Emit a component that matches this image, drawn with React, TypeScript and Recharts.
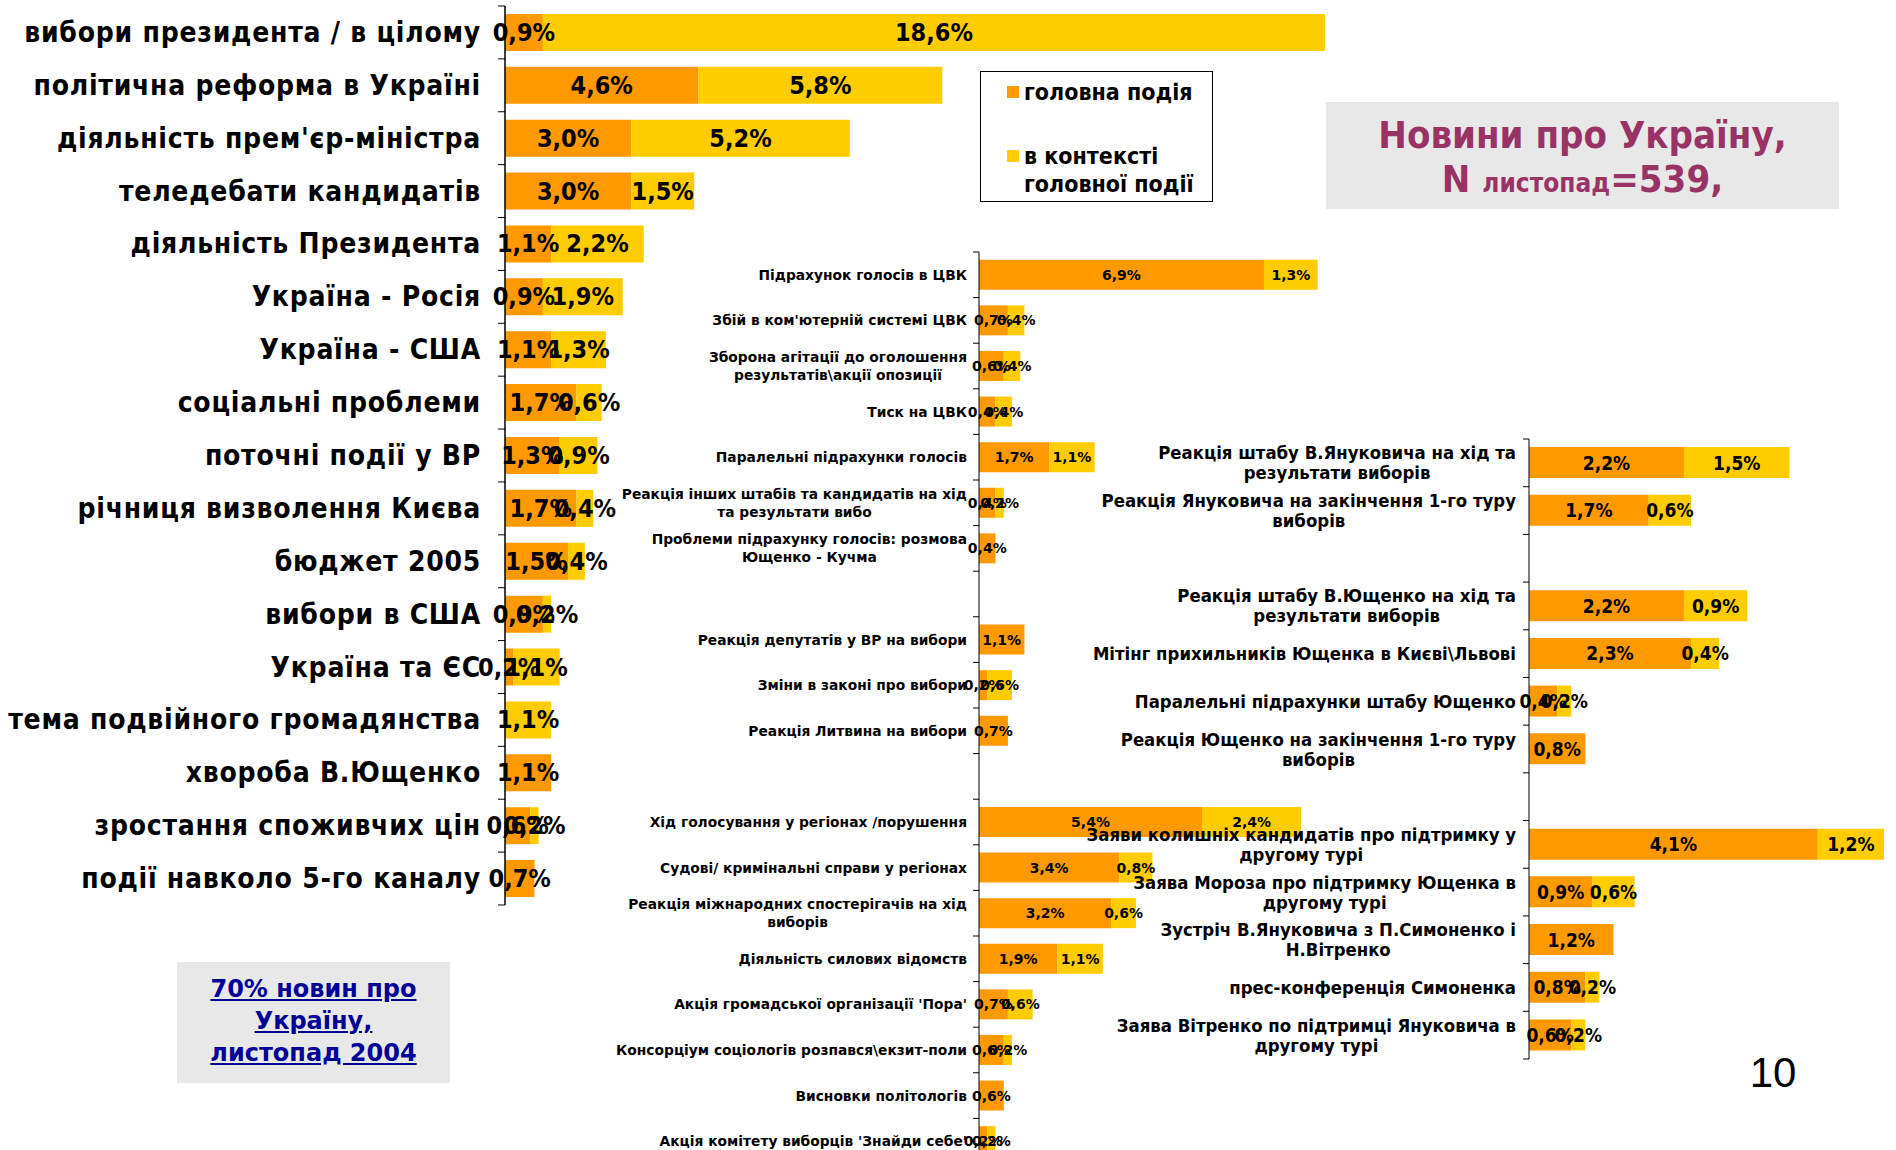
import React from "react";
import { BarChart, Bar, XAxis, YAxis, LabelList, Legend } from "recharts";

const ORANGE = "#FF9900";
const YELLOW = "#FFCC00";
const SERIES_NAMES = ["головна подія", "в контексті\nголовної події"];

// ---- left chart ----
const leftCategories = [
  "вибори президента / в цілому",
  "політична реформа в Україні",
  "діяльність прем'єр-міністра",
  "теледебати кандидатів",
  "діяльність Президента",
  "Україна - Росія",
  "Україна - США",
  "соціальні проблеми",
  "поточні події у ВР",
  "річниця визволення Києва",
  "бюджет 2005",
  "вибори в США",
  "Україна та ЄС",
  "тема подвійного громадянства",
  "хвороба В.Ющенко",
  "зростання споживчих цін",
  "події навколо 5-го каналу",
];
const leftMain = [0.9, 4.6, 3.0, 3.0, 1.1, 0.9, 1.1, 1.7, 1.3, 1.7, 1.5, 0.9, 0.2, 0, 1.1, 0.6, 0.7];
const leftContext = [18.6, 5.8, 5.2, 1.5, 2.2, 1.9, 1.3, 0.6, 0.9, 0.4, 0.4, 0.2, 1.1, 1.1, 0, 0.2, 0];

// ---- middle chart ----
const midCategories = [
  "Підрахунок голосів в ЦВК",
  "Збій в ком'ютерній системі ЦВК",
  "Зборона агітації до оголошення\nрезультатів\\акції опозиції",
  "Тиск на ЦВК",
  "Паралельні підрахунки голосів",
  "Реакція інших штабів та кандидатів на хід\nта результати вибо",
  "Проблеми підрахунку голосів: розмова\nЮщенко - Кучма",
  "",
  "Реакція депутатів у ВР на вибори",
  "Зміни в законі про вибори",
  "Реакція Литвина на вибори",
  "",
  "Хід голосування у регіонах /порушення",
  "Судові/ кримінальні справи у регіонах",
  "Реакція міжнародних спостерігачів на хід\nвиборів",
  "Діяльність силових відомств",
  "Акція громадської організації 'Пора'",
  "Консорціум соціологів розпався\\екзит-поли",
  "Висновки політологів",
  "Акція комітету виборців 'Знайди себе'",
];
const midMain = [6.9, 0.7, 0.6, 0.4, 1.7, 0.4, 0.4, 0, 1.1, 0.2, 0.7, 0, 5.4, 3.4, 3.2, 1.9, 0.7, 0.6, 0.6, 0.2];
const midContext = [1.3, 0.4, 0.4, 0.4, 1.1, 0.2, 0, 0, 0, 0.6, 0, 0, 2.4, 0.8, 0.6, 1.1, 0.6, 0.2, 0, 0.2];

// ---- right chart ----
const rightCategories = [
  "Реакція штабу В.Януковича на хід та\nрезультати виборів",
  "Реакція Януковича на закінчення 1-го туру\nвиборів",
  "",
  "Реакція штабу В.Ющенко на хід та\nрезультати виборів",
  "Мітінг прихильників Ющенка в Києві\\Львові",
  "Паралельні підрахунки штабу Ющенко",
  "Реакція Ющенко на закінчення 1-го туру\nвиборів",
  "",
  "Заяви колишніх кандидатів про підтримку у\nдругому турі",
  "Заява Мороза про підтримку Ющенка в\nдругому турі",
  "Зустріч В.Януковича з П.Симоненко і\nН.Вітренко",
  "прес-конференція Симоненка",
  "Заява Вітренко по підтримці Януковича в\nдругому турі",
];
const rightMain = [2.2, 1.7, 0, 2.2, 2.3, 0.4, 0.8, 0, 4.1, 0.9, 1.2, 0.8, 0.6];
const rightContext = [1.5, 0.6, 0, 0.9, 0.4, 0.2, 0, 0, 1.2, 0.6, 0, 0.2, 0.2];

const COND = "'DejaVu Sans Condensed', 'Liberation Sans Narrow', 'DejaVu Sans', sans-serif";
const WIDE = "'DejaVu Sans', Verdana, sans-serif";

const build = (cats: string[], main: number[], ctx: number[]) =>
  cats.map((_, i) => ({ id: "c" + i, main: main[i], context: ctx[i] }));

const leftData = build(leftCategories, leftMain, leftContext);
const midData = build(midCategories, midMain, midContext);
const rightData = build(rightCategories, rightMain, rightContext);

let canvasCtx: CanvasRenderingContext2D | null = null;
function measure(text: string, font: string) {
  if (!canvasCtx) {
    const c = document.createElement("canvas");
    canvasCtx = c.getContext("2d");
  }
  if (!canvasCtx) return text.length * 8;
  canvasCtx.font = font;
  return canvasCtx.measureText(text).width;
}

const fmt = (v: number) => v.toFixed(1).replace(".", ",") + "%";

type TickCfg = {
  labels: string[];
  axisX: number;
  gap: number;
  band: number;
  count: number;
  tickLen: number;
  font: string;
  size: number;
  lineH: number;
  spacing?: number;
};

function makeTick(cfg: TickCfg) {
  return (props: any) => {
    const { y, payload } = props;
    const idx = Number(String(payload.value).replace("c", ""));
    const text = cfg.labels[idx] ?? "";
    const lines = text ? text.split("\n") : [];
    const right = cfg.axisX - cfg.gap;
    const fontStr = `bold ${cfg.size}px ${cfg.font}`;
    const widths = lines.map((l) => measure(l, fontStr));
    const maxW = Math.max(0, ...widths);
    const top = y - cfg.band / 2;
    return (
      <g>
        <line x1={cfg.axisX - cfg.tickLen} x2={cfg.axisX} y1={top} y2={top} stroke="#000" strokeWidth={1} />
        {idx === cfg.count - 1 && (
          <line
            x1={cfg.axisX - cfg.tickLen}
            x2={cfg.axisX}
            y1={y + cfg.band / 2}
            y2={y + cfg.band / 2}
            stroke="#000"
            strokeWidth={1}
          />
        )}
        {lines.map((l, i) => (
          <text
            key={i}
            x={lines.length > 1 ? right - maxW / 2 : right}
            y={y + (i - (lines.length - 1) / 2) * cfg.lineH}
            textAnchor={lines.length > 1 ? "middle" : "end"}
            dominantBaseline="central"
            fontFamily={cfg.font}
            fontWeight="bold"
            fontSize={cfg.size}
            letterSpacing={cfg.spacing ?? 0}
            fill="#000"
          >
            {l}
          </text>
        ))}
      </g>
    );
  };
}

function makeValueLabel(font: string, size: number) {
  return (props: any) => {
    const { x, y, width, height, value } = props;
    if (!value) return null;
    return (
      <text
        x={Number(x) + Number(width) / 2}
        y={Number(y) + Number(height) / 2}
        textAnchor="middle"
        dominantBaseline="central"
        fontFamily={font}
        fontWeight="bold"
        fontSize={size}
        fill="#000"
      >
        {fmt(Number(value))}
      </text>
    );
  };
}

function LegendBox(props: any) {
  const raw = (props.payload || []) as any[];
  const payload = [...raw].sort(
    (a, b) => SERIES_NAMES.indexOf(String(a.value)) - SERIES_NAMES.indexOf(String(b.value))
  );
  const rows = [14, 78];
  return (
    <div
      style={{
        width: 231,
        height: 129,
        border: "1px solid #000",
        background: "#fff",
        position: "relative",
        fontFamily: COND,
        fontWeight: "bold",
        fontSize: 23,
        color: "#000",
      }}
    >
      {payload.map((p, i) => (
        <React.Fragment key={i}>
          <div
            style={{
              position: "absolute",
              left: 26,
              top: rows[i],
              width: 12,
              height: 12,
              background: p.color,
            }}
          />
          <div
            style={{
              position: "absolute",
              left: 43,
              top: rows[i] - 8,
              lineHeight: "28px",
              whiteSpace: "pre-line",
              textAlign: "left",
            }}
          >
            {p.value}
          </div>
        </React.Fragment>
      ))}
    </div>
  );
}

export default function App() {
  const leftH = 899;
  const midH = 912;
  const rightH = 620;
  return (
    <div
      style={{
        position: "fixed",
        left: 0,
        top: 0,
        width: 1896,
        height: 1150,
        overflow: "hidden",
        background: "#fff",
      }}
    >
      {/* left chart */}
      <div style={{ position: "absolute", left: 0, top: 0 }}>
        <BarChart
          width={1360}
          height={920}
          data={leftData}
          layout="vertical"
          margin={{ top: 6, right: 14, bottom: 15, left: 0 }}
          barCategoryGap="15%"
        >
          <XAxis type="number" domain={[0, 20]} hide />
          <YAxis
            type="category"
            dataKey="id"
            width={505}
            interval={0}
            tickLine={false}
            axisLine={{ stroke: "#000", strokeWidth: 1.5 }}
            tick={makeTick({
              labels: leftCategories,
              axisX: 505,
              gap: 24,
              band: leftH / leftCategories.length,
              count: leftCategories.length,
              tickLen: 7,
              font: COND,
              size: 28,
              lineH: 30,
              spacing: 0.75,
            })}
          />
          <Legend
            verticalAlign="middle"
            align="center"
            layout="horizontal"
            content={<LegendBox />}
            wrapperStyle={{ position: "absolute", left: 980, top: 71, width: 233, height: 131 }}
          />
          <Bar dataKey="main" name={SERIES_NAMES[0]} stackId="a" fill={ORANGE} isAnimationActive={false}>
            <LabelList dataKey="main" content={makeValueLabel(COND, 25)} />
          </Bar>
          <Bar dataKey="context" name={SERIES_NAMES[1]} stackId="a" fill={YELLOW} isAnimationActive={false}>
            <LabelList dataKey="context" content={makeValueLabel(COND, 25)} />
          </Bar>
        </BarChart>
      </div>

      {/* middle chart */}
      <div style={{ position: "absolute", left: 560, top: 240 }}>
        <BarChart
          width={850}
          height={940}
          data={midData}
          layout="vertical"
          margin={{ top: 12, right: 18, bottom: 16, left: 0 }}
          barCategoryGap="17%"
        >
          <XAxis type="number" domain={[0, 10]} hide />
          <YAxis
            type="category"
            dataKey="id"
            width={419}
            interval={0}
            tickLine={false}
            axisLine={{ stroke: "#000", strokeWidth: 1 }}
            tick={makeTick({
              labels: midCategories,
              axisX: 419,
              gap: 12,
              band: midH / midCategories.length,
              count: midCategories.length,
              tickLen: 6,
              font: WIDE,
              size: 13.8,
              lineH: 18,
            })}
          />
          <Bar dataKey="main" name={SERIES_NAMES[0]} stackId="a" fill={ORANGE} isAnimationActive={false}>
            <LabelList dataKey="main" content={makeValueLabel(WIDE, 14)} />
          </Bar>
          <Bar dataKey="context" name={SERIES_NAMES[1]} stackId="a" fill={YELLOW} isAnimationActive={false}>
            <LabelList dataKey="context" content={makeValueLabel(WIDE, 14)} />
          </Bar>
        </BarChart>
      </div>

      {/* right chart */}
      <div style={{ position: "absolute", left: 1000, top: 425 }}>
        <BarChart
          width={884}
          height={650}
          data={rightData}
          layout="vertical"
          margin={{ top: 14, right: 0, bottom: 16, left: 0 }}
          barCategoryGap="17%"
        >
          <XAxis type="number" domain={[0, 5.04]} allowDataOverflow hide />
          <YAxis
            type="category"
            dataKey="id"
            width={529}
            interval={0}
            tickLine={false}
            axisLine={{ stroke: "#000", strokeWidth: 1 }}
            tick={makeTick({
              labels: rightCategories,
              axisX: 529,
              gap: 13,
              band: rightH / rightCategories.length,
              count: rightCategories.length,
              tickLen: 6,
              font: COND,
              size: 18.4,
              lineH: 20,
            })}
          />
          <Bar dataKey="main" name={SERIES_NAMES[0]} stackId="a" fill={ORANGE} isAnimationActive={false}>
            <LabelList dataKey="main" content={makeValueLabel(COND, 19)} />
          </Bar>
          <Bar dataKey="context" name={SERIES_NAMES[1]} stackId="a" fill={YELLOW} isAnimationActive={false}>
            <LabelList dataKey="context" content={makeValueLabel(COND, 19)} />
          </Bar>
        </BarChart>
      </div>

      {/* title box */}
      <div
        style={{
          position: "absolute",
          left: 1326,
          top: 102,
          width: 513,
          height: 107,
          background: "#E8E8E8",
          color: "#993366",
          fontFamily: COND,
          fontWeight: "bold",
          textAlign: "center",
        }}
      >
        <div style={{ position: "absolute", left: 0, right: 0, top: 13, lineHeight: "40px", fontSize: 38 }}>
          Новини про Україну,
        </div>
        <div style={{ position: "absolute", left: 0, right: 0, top: 57, lineHeight: "40px", fontSize: 38 }}>
          N <span style={{ fontSize: 26 }}>листопад</span>=539,
        </div>
      </div>

      {/* link box */}
      <div
        style={{
          position: "absolute",
          left: 177,
          top: 962,
          width: 273,
          height: 121,
          background: "#E8E8E8",
          color: "#000099",
          fontFamily: WIDE,
          fontWeight: "bold",
          fontSize: 24,
          lineHeight: "32px",
          textAlign: "center",
          textDecoration: "underline",
          boxSizing: "border-box",
          paddingTop: 11,
        }}
      >
        70% новин про
        <br />
        Україну,
        <br />
        листопад 2004
      </div>

      {/* page number */}
      <div
        style={{
          position: "absolute",
          left: 1740,
          top: 1050,
          width: 66,
          textAlign: "center",
          fontFamily: "'Liberation Sans Narrow', 'Liberation Sans', Arial, sans-serif",
          fontSize: 42,
          lineHeight: "46px",
          color: "#000",
        }}
      >
        10
      </div>
    </div>
  );
}
